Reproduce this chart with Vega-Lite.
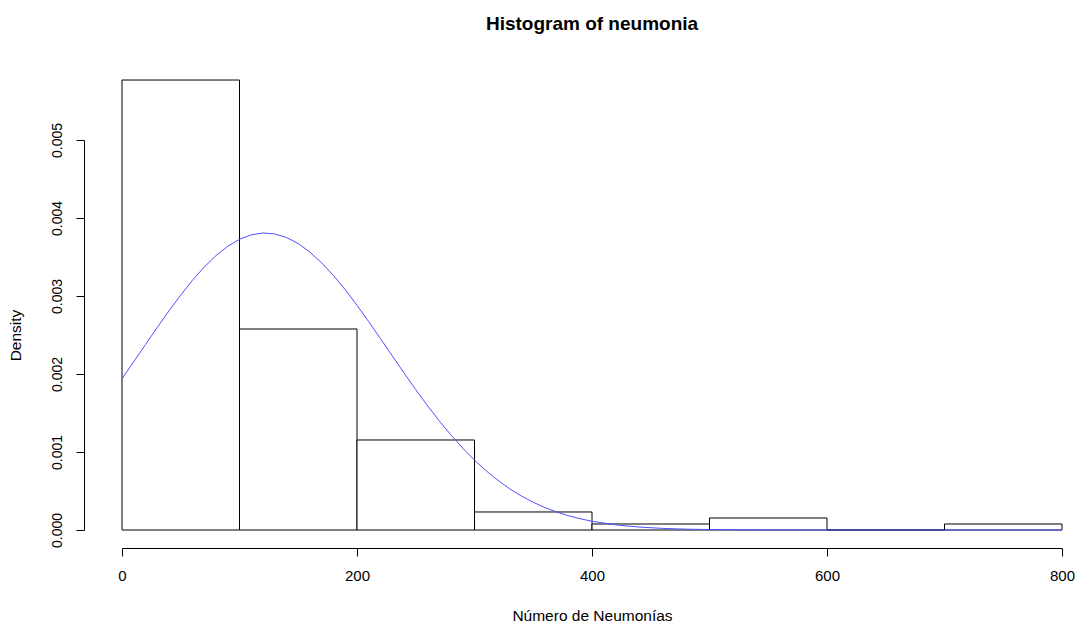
{
  "$schema": "https://vega.github.io/schema/vega-lite/v6.json",
  "width": 940,
  "height": 390,
  "autosize": {"type": "none"},
  "padding": {"left": 122, "top": 140, "right": 14, "bottom": 93},
  "background": "white",
  "config": {
    "view": {"stroke": null},
    "font": "Liberation Sans",
    "axis": {"grid": false, "domainColor": "black", "tickColor": "black", "labelColor": "black", "titleColor": "black", "labelFont": "Liberation Sans", "titleFont": "Liberation Sans", "titleFontWeight": "normal", "tickSize": 8, "domainWidth": 1, "tickWidth": 1}
  },
  "title": {"text": "Histogram of neumonia", "anchor": "middle", "frame": "group", "font": "Liberation Sans", "fontSize": 19, "fontWeight": "bold", "color": "black", "offset": 46},
  "datasets": {
    "bins": [
      {"lo": 0, "hi": 100, "density": 0.005769},
      {"lo": 100, "hi": 200, "density": 0.002577},
      {"lo": 200, "hi": 300, "density": 0.001154},
      {"lo": 300, "hi": 400, "density": 0.000231},
      {"lo": 400, "hi": 500, "density": 0.000077},
      {"lo": 500, "hi": 600, "density": 0.000154},
      {"lo": 600, "hi": 700, "density": 0},
      {"lo": 700, "hi": 800, "density": 0.000077}
    ],
    "curve": [
      {"x": 0, "y": 0.001940}, {"x": 10, "y": 0.002158}, {"x": 20, "y": 0.002378}, {"x": 30, "y": 0.002597},
      {"x": 40, "y": 0.002810}, {"x": 50, "y": 0.003013}, {"x": 60, "y": 0.003202}, {"x": 70, "y": 0.003372},
      {"x": 80, "y": 0.003518}, {"x": 90, "y": 0.003638}, {"x": 100, "y": 0.003727}, {"x": 110, "y": 0.003784},
      {"x": 120, "y": 0.003808}, {"x": 130, "y": 0.003796}, {"x": 140, "y": 0.003750}, {"x": 150, "y": 0.003672},
      {"x": 160, "y": 0.003562}, {"x": 170, "y": 0.003424}, {"x": 180, "y": 0.003262}, {"x": 190, "y": 0.003080},
      {"x": 200, "y": 0.002881}, {"x": 210, "y": 0.002670}, {"x": 220, "y": 0.002453}, {"x": 230, "y": 0.002233},
      {"x": 240, "y": 0.002014}, {"x": 250, "y": 0.001800}, {"x": 260, "y": 0.001594}, {"x": 270, "y": 0.001399},
      {"x": 280, "y": 0.001217}, {"x": 290, "y": 0.001049}, {"x": 300, "y": 0.000896}, {"x": 310, "y": 0.000758},
      {"x": 320, "y": 0.000636}, {"x": 330, "y": 0.000528}, {"x": 340, "y": 0.000435}, {"x": 350, "y": 0.000355},
      {"x": 360, "y": 0.000287}, {"x": 370, "y": 0.000230}, {"x": 380, "y": 0.000183}, {"x": 390, "y": 0.000144},
      {"x": 400, "y": 0.000112}, {"x": 420, "y": 0.0000663}, {"x": 440, "y": 0.0000378}, {"x": 460, "y": 0.0000208},
      {"x": 480, "y": 0.0000110}, {"x": 500, "y": 0.0000056}, {"x": 550, "y": 0.0000009}, {"x": 600, "y": 0.0000001},
      {"x": 700, "y": 0}, {"x": 800, "y": 0}
    ]
  },
  "layer": [
    {
      "data": {"name": "bins"},
      "mark": {"type": "rect", "fill": "white", "stroke": "black", "strokeWidth": 1, "clip": false},
      "encoding": {
        "x": {"field": "lo", "type": "quantitative", "scale": {"domain": [0, 800], "nice": false, "zero": false},
          "axis": {"title": "Número de Neumonías", "values": [0, 200, 400, 600, 800], "offset": 18, "labelFontSize": 15, "labelPadding": 12, "titleFontSize": 15.5, "titlePadding": 25, "labelFlush": false}},
        "x2": {"field": "hi"},
        "y": {"field": "density", "type": "quantitative", "scale": {"domain": [0, 0.005], "nice": false},
          "axis": {"title": "Density", "values": [0, 0.001, 0.002, 0.003, 0.004, 0.005], "format": ".3f", "offset": 38, "labelAngle": 270, "labelAlign": "center", "labelBaseline": "bottom", "labelFontSize": 14, "labelPadding": 12, "titleFontSize": 15.5, "titlePadding": 27, "labelFlush": false}},
        "y2": {"datum": 0}
      }
    },
    {
      "data": {"name": "curve"},
      "mark": {"type": "line", "color": "#5050ff", "strokeWidth": 1, "clip": false},
      "encoding": {
        "x": {"field": "x", "type": "quantitative"},
        "y": {"field": "y", "type": "quantitative"}
      }
    }
  ]
}
